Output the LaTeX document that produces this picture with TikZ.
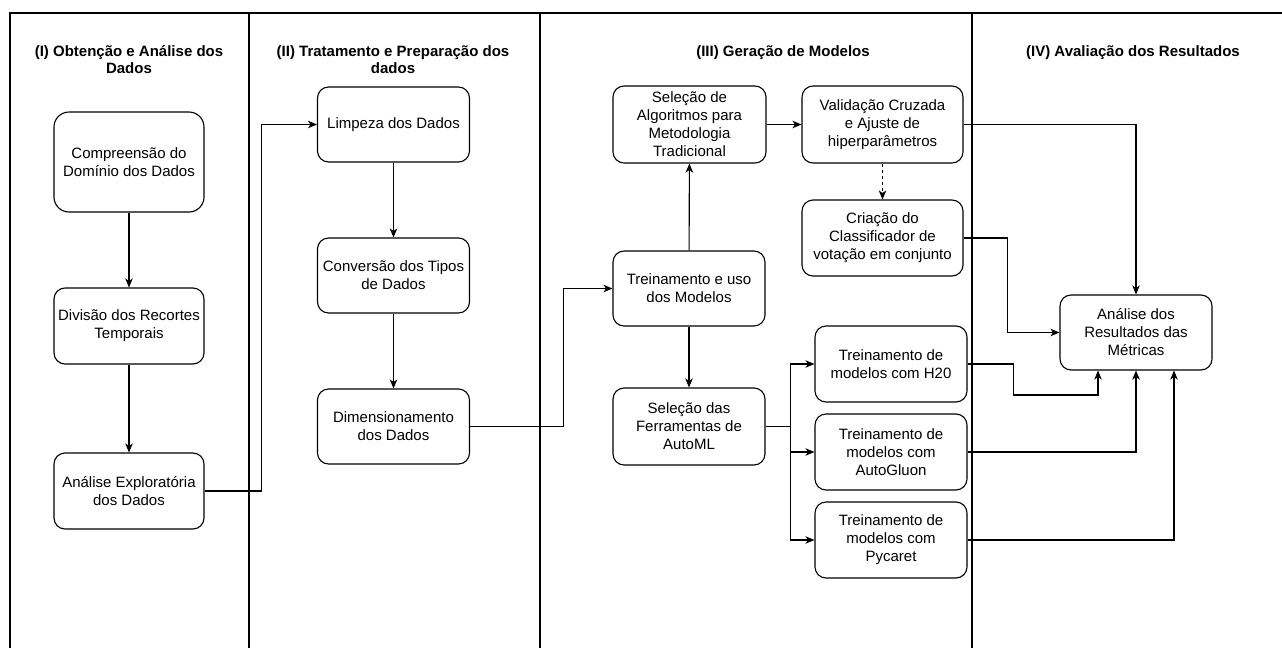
\documentclass[tikz,border=0pt]{standalone}
\usepackage{fontspec}
\setmainfont{Liberation Sans}
\usetikzlibrary{arrows.meta, positioning}

\begin{document}
\begin{tikzpicture}[x=1pt, y=-1pt, >={Stealth[length=9pt, width=7.5pt, inset=2.5pt]},
    etapa/.style={draw, line width=1.1pt, rounded corners=11pt, align=center,
        minimum width=152pt, minimum height=76pt, inner sep=0pt,
        font=\fontsize{15}{18}\selectfont},
    titulo/.style={align=center, font=\fontsize{15}{17}\selectfont\bfseries},
    seta/.style={->, line width=1.1pt},
    raia/.style={line width=1.1pt}]

    \useasboundingbox (0,0) rectangle (1282,648);

    % ==========================================
    % 1. LANES
    % ==========================================
    \draw[raia] (10,648) -- (10,13) -- (1282,13);
    \draw[raia] (249,13) -- (249,648);
    \draw[raia] (540,13) -- (540,648);
    \draw[raia] (972,13) -- (972,648);

    \node[titulo] (tituloI) at (129,60) {(I) Obtenção e Análise dos\\Dados};
    \node[titulo] (tituloII) at (393,60) {(II) Tratamento e Preparação dos\\dados};
    \node[titulo] (tituloIII) at (783,53) {(III) Geração de Modelos};
    \node[titulo] (tituloIV) at (1133,53) {(IV) Avaliação dos Resultados};

    % ==========================================
    % 2. STEPS
    % ==========================================
    \node[etapa, minimum width=150pt, minimum height=100pt, rounded corners=15pt] (compreensao) at (129,162) {Compreensão do\\Domínio dos Dados};
    \node[etapa, minimum width=150pt] (divisao) at (129,326) {Divisão dos Recortes\\Temporais};
    \node[etapa, minimum width=150pt] (exploratoria) at (129,491) {Análise Exploratória\\dos Dados};

    \node[etapa, minimum height=75pt] (limpeza) at (393.5,124.5) {Limpeza dos Dados};
    \node[etapa, minimum height=75pt] (conversao) at (393.5,275.5) {Conversão dos Tipos\\de Dados};
    \node[etapa, minimum height=75pt] (dimensionamento) at (393.5,426.5) {Dimensionamento\\dos Dados};

    \node[etapa, minimum width=153pt, minimum height=77pt] (algoritmos) at (689.5,124.5) {Seleção de\\Algoritmos para\\Metodologia\\Tradicional};
    \node[etapa, minimum height=75pt] (treinamento) at (689,288.5) {Treinamento e uso\\dos Modelos};
    \node[etapa, minimum height=77pt] (ferramentas) at (689,426.5) {Seleção das\\Ferramentas de\\AutoML};
    \node[etapa, minimum width=161pt, minimum height=77pt] (validacao) at (882.5,124.5) {Validação Cruzada\\e Ajuste de\\hiperparâmetros};
    \node[etapa, minimum width=161pt] (votacao) at (882.5,238) {Criação do\\Classificador de\\votação em conjunto};

    \node[etapa] (htwoo) at (891,364) {Treinamento de\\modelos com H20};
    \node[etapa] (autogluon) at (891,452) {Treinamento de\\modelos com\\AutoGluon};
    \node[etapa] (pycaret) at (891,540) {Treinamento de\\modelos com\\Pycaret};

    \node[etapa, minimum height=75pt] (resultados) at (1136,332.5) {Análise dos\\Resultados das\\Métricas};

    % ==========================================
    % 3. CONNECTORS
    % ==========================================
    \draw[seta] (compreensao) -- (divisao);
    \draw[seta] (divisao) -- (exploratoria);
    \draw[seta] (exploratoria.east) -- ++(57,0) |- (limpeza);

    \draw[seta] (limpeza) -- (conversao);
    \draw[seta] (conversao) -- (dimensionamento);
    \draw[seta] (dimensionamento.east) -- ++(93,0) |- (treinamento);

    \draw[seta] (treinamento) -- (algoritmos);
    \draw[seta] (treinamento) -- (ferramentas);
    \draw[seta] (algoritmos) -- (validacao);
    \draw[seta, dashed] (validacao) -- (votacao);

    \draw[seta] (ferramentas.east) -- ++(25,0) coordinate (bifurca) |- (htwoo);
    \draw[seta] (bifurca) |- (autogluon);
    \draw[seta] (bifurca) |- (pycaret);

    % results
    \draw[seta] (validacao) -| (resultados);
    \draw[seta] (votacao.east) -- ++(44,0) |- (resultados);
    \draw[seta] (htwoo.east) -| ++(46,31) -| ([xshift=-38pt]resultados.south);
    \draw[seta] (autogluon) -| (resultados);
    \draw[seta] (pycaret) -| ([xshift=38pt]resultados.south);

\end{tikzpicture}
\end{document}
